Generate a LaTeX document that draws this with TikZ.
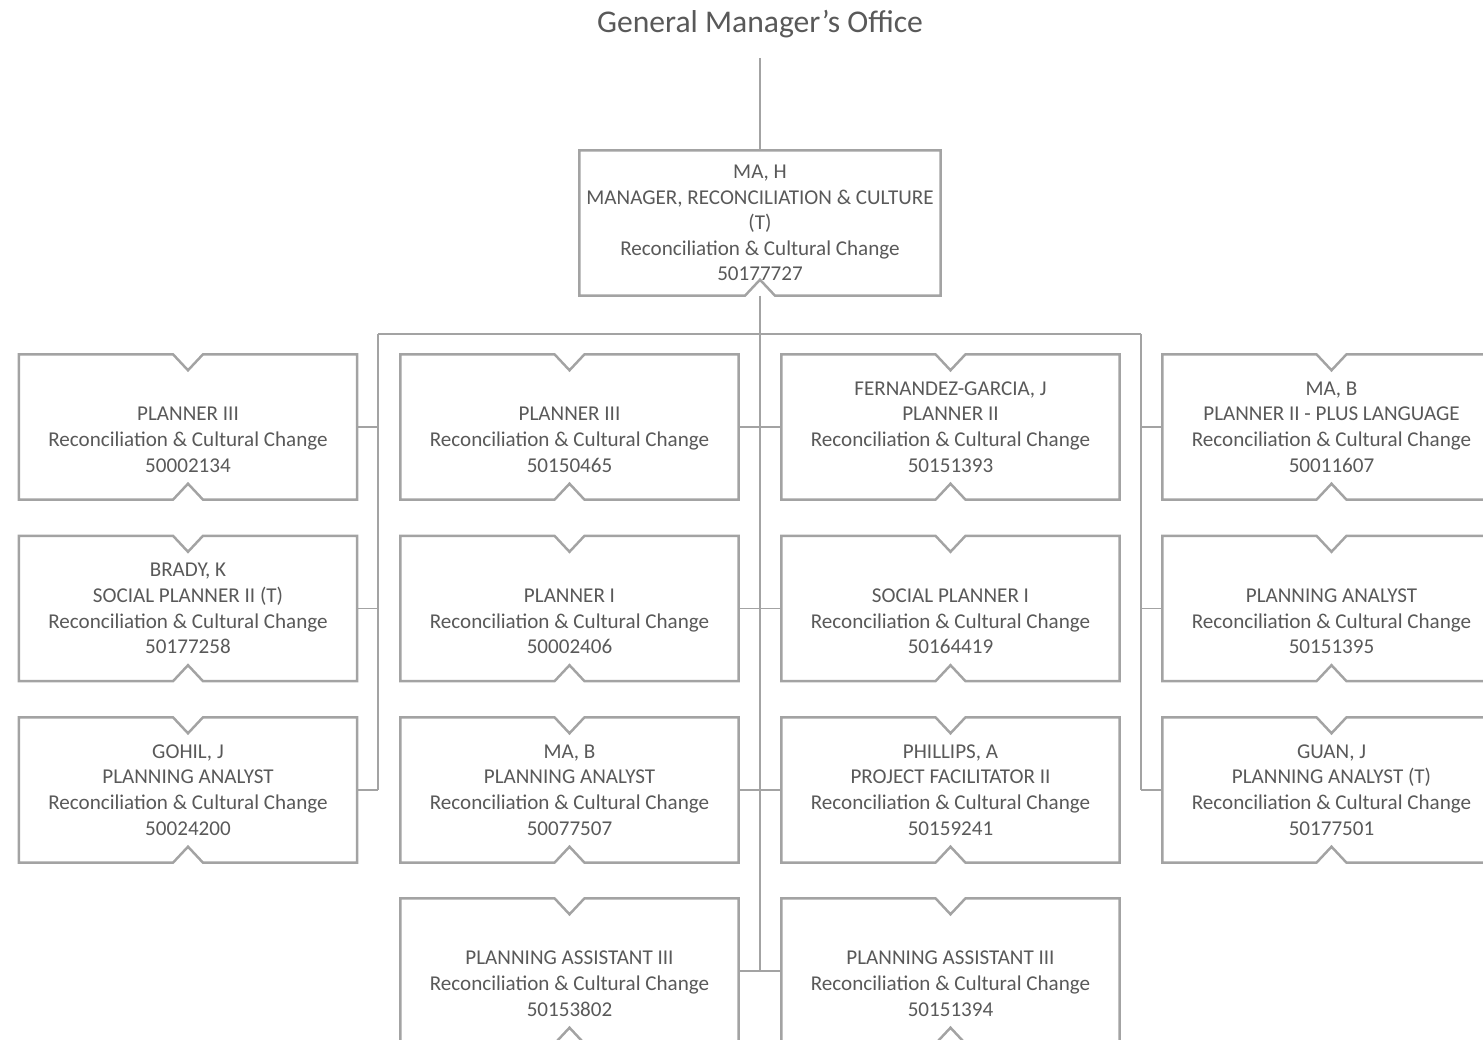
\documentclass[tikz,border=0pt]{standalone}
\usepackage{fontspec}
\setmainfont{Carlito}
\definecolor{txtgray}{HTML}{595959}
\definecolor{linegray}{HTML}{A3A3A3}
\tikzset{
	posbox/.style={minimum width=3.37cm, minimum height=1.44cm, inner sep=0pt, align=center, text=txtgray, font=\fontsize{6}{7.3}\selectfont},
	boxline/.style={draw=linegray, line width=0.7pt},
	link/.style={draw=linegray, line width=0.5pt}
}

\begin{document}
\begin{tikzpicture}
	\useasboundingbox (0,0) rectangle (14.83,-10.40);
	\node[text=txtgray, font=\fontsize{9}{11}\selectfont] (gmo) at (7.6,-0.24) {General Manager’s Office};
	\node[posbox, minimum width=3.6cm] (mgr) at (7.6,-2.23) {MA, H\\MANAGER, RECONCILIATION \& CULTURE\\(T)\\Reconciliation \& Cultural Change\\50177727};
	% first column
	\node[posbox] (c1a) at (1.88,-4.27) {\phantom{A}\\PLANNER III\\Reconciliation \& Cultural Change\\50002134};
	\node[posbox] (c1b) at (1.88,-6.085) {BRADY, K\\SOCIAL PLANNER II (T)\\Reconciliation \& Cultural Change\\50177258};
	\node[posbox] (c1c) at (1.88,-7.90) {GOHIL, J\\PLANNING ANALYST\\Reconciliation \& Cultural Change\\50024200};
	% second column
	\node[posbox] (c2a) at (5.695,-4.27) {\phantom{A}\\PLANNER III\\Reconciliation \& Cultural Change\\50150465};
	\node[posbox] (c2b) at (5.695,-6.085) {\phantom{A}\\PLANNER I\\Reconciliation \& Cultural Change\\50002406};
	\node[posbox] (c2c) at (5.695,-7.90) {MA, B\\PLANNING ANALYST\\Reconciliation \& Cultural Change\\50077507};
	\node[posbox] (c2d) at (5.695,-9.71) {\phantom{A}\\PLANNING ASSISTANT III\\Reconciliation \& Cultural Change\\50153802};
	% third column
	\node[posbox] (c3a) at (9.505,-4.27) {FERNANDEZ-GARCIA, J\\PLANNER II\\Reconciliation \& Cultural Change\\50151393};
	\node[posbox] (c3b) at (9.505,-6.085) {\phantom{A}\\SOCIAL PLANNER I\\Reconciliation \& Cultural Change\\50164419};
	\node[posbox] (c3c) at (9.505,-7.90) {PHILLIPS, A\\PROJECT FACILITATOR II\\Reconciliation \& Cultural Change\\50159241};
	\node[posbox] (c3d) at (9.505,-9.71) {\phantom{A}\\PLANNING ASSISTANT III\\Reconciliation \& Cultural Change\\50151394};
	% fourth column
	\node[posbox] (c4a) at (13.315,-4.27) {MA, B\\PLANNER II - PLUS LANGUAGE\\Reconciliation \& Cultural Change\\50011607};
	\node[posbox] (c4b) at (13.315,-6.085) {\phantom{A}\\PLANNING ANALYST\\Reconciliation \& Cultural Change\\50151395};
	\node[posbox] (c4c) at (13.315,-7.90) {GUAN, J\\PLANNING ANALYST (T)\\Reconciliation \& Cultural Change\\50177501};

	% outlines with notches
	\draw[boxline] (mgr.north west) -- (mgr.north east) -- (mgr.south east) -- ([xshift=1.5mm]mgr.south) -- ([yshift=1.6mm]mgr.south) -- ([xshift=-1.5mm]mgr.south) -- (mgr.south west) -- cycle;
	\foreach \n in {c1a, c1b, c1c, c2a, c2b, c2c, c2d, c3a, c3b, c3c, c3d, c4a, c4b, c4c}
		\draw[boxline] (\n.north west) -- ([xshift=-1.5mm]\n.north) -- ([yshift=-1.6mm]\n.north) -- ([xshift=1.5mm]\n.north) -- (\n.north east) -- (\n.south east) -- ([xshift=1.5mm]\n.south) -- ([yshift=1.6mm]\n.south) -- ([xshift=-1.5mm]\n.south) -- (\n.south west) -- cycle;

	% connectors
	\coordinate (gmoline) at (7.6,-0.58);
	\coordinate (lbus) at (3.78,-3.34);
	\coordinate (rbus) at (11.41,-3.34);
	\draw[link] (gmoline) -- (mgr.north);
	\draw[link] (mgr.south) -- (mgr.south |- c2d.east);
	\draw[link] (lbus) -- (rbus);
	\draw[link] (lbus) -- (lbus |- c1c.east);
	\draw[link] (rbus) -- (rbus |- c4c.west);
	\foreach \r in {a, b, c}
		\draw[link] (c1\r.east) -- (c1\r.east -| lbus);
	\foreach \r in {a, b, c}
		\draw[link] (c4\r.west) -- (c4\r.west -| rbus);
	\foreach \r in {a, b, c, d}
		\draw[link] (c2\r.east) -- (c3\r.west);
\end{tikzpicture}
\end{document}
